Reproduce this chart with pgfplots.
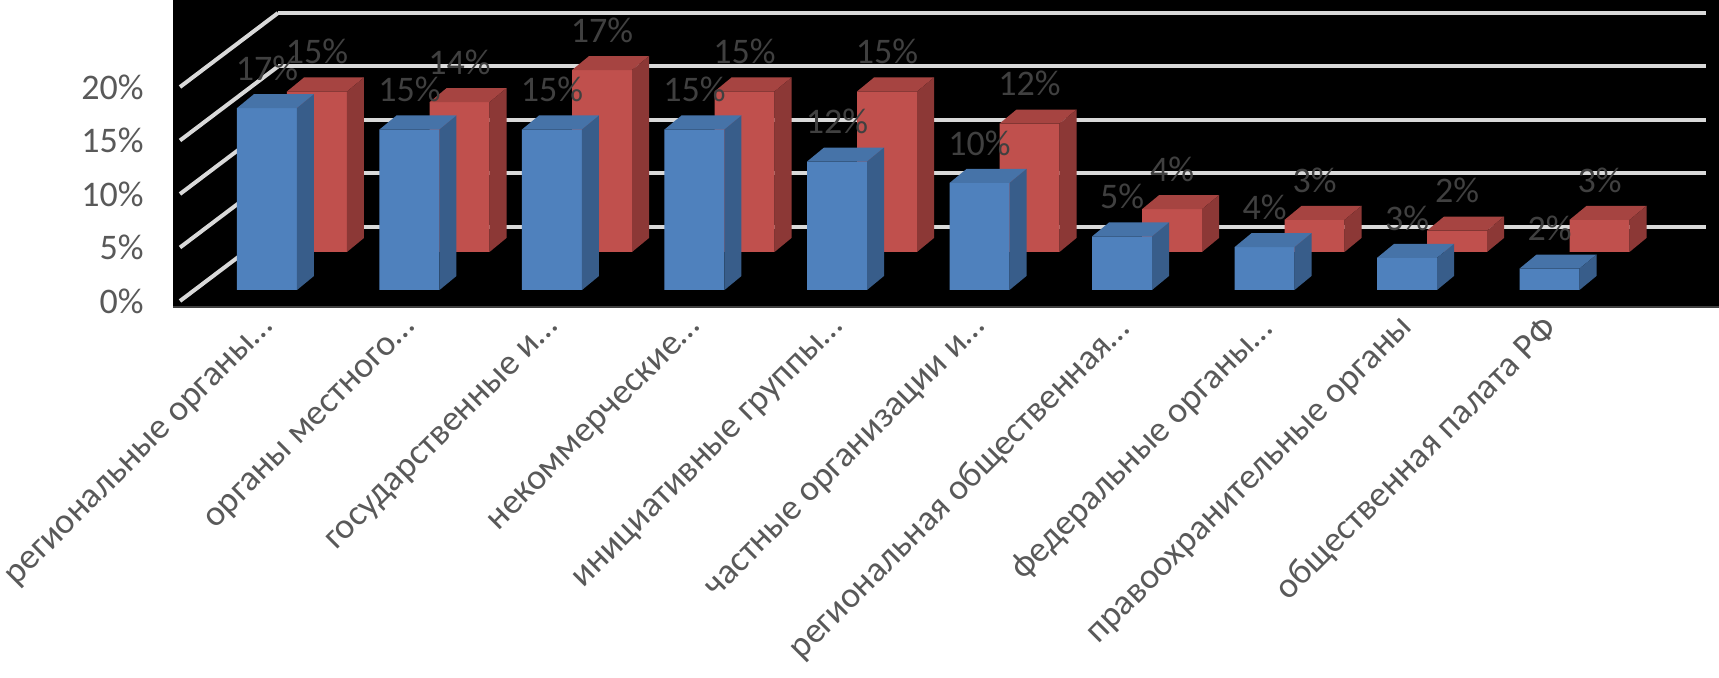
\documentclass[border=0pt]{standalone}
\usepackage{fontspec}
\setmainfont{Carlito}
\usepackage{pgfplots}
\pgfplotsset{compat=1.18}
\definecolor{bfront}{RGB}{79,129,189}
\definecolor{btop}{RGB}{70,115,168}
\definecolor{bside}{RGB}{56,93,138}
\definecolor{rfront}{RGB}{192,80,77}
\definecolor{rtop}{RGB}{166,68,65}
\definecolor{rside}{RGB}{140,56,54}
\definecolor{lbl}{RGB}{89,89,89}
\definecolor{dlbl}{RGB}{64,64,64}
\definecolor{gridc}{RGB}{217,217,217}
\newcommand\cubefaces[2]{%
  \pgfpathmoveto{\pgfqpoint{-15pt}{0pt}}%
  \pgfpathlineto{\pgfqpoint{15pt}{0pt}}%
  \pgfpathlineto{\pgfqpoint{23.5pt}{7pt}}%
  \pgfpathlineto{\pgfqpoint{-6.5pt}{7pt}}%
  \pgfpathclose
  \pgfsetfillcolor{#1}\pgfusepath{fill}%
  \pgfpathmoveto{\pgfqpoint{15pt}{0pt}}%
  \pgfpathlineto{\pgfpoint{15pt}{-\h*5.35pt}}%
  \pgfpathlineto{\pgfpoint{23.5pt}{7pt-\h*5.35pt}}%
  \pgfpathlineto{\pgfqpoint{23.5pt}{7pt}}%
  \pgfpathclose
  \pgfsetfillcolor{#2}\pgfusepath{fill}%
}
\pgfdeclareplotmark{cubeB}{\cubefaces{btop}{bside}}
\pgfdeclareplotmark{cubeR}{\cubefaces{rtop}{rside}}
\pgfplotsset{
  cube3d/.style={
    x=71.25pt, y=5.35pt,
    xmin=-0.6596, xmax=10.189, ymin=-1.589, ymax=27.10,
    anchor=south west, clip=false,
    ybar, bar width=30pt,
    /pgf/number format/assume math mode=true,
    nodes near coords={\pgfmathprintnumber{\pgfplotspointmeta}\%},
    point meta=rawy,
    every node near coord/.append style={anchor=center, yshift=20pt,
      font=\fontsize{18pt}{20pt}\selectfont, text=dlbl, inner sep=0pt},
  }
}
\begin{document}
\begin{tikzpicture}
\fill[white] (0,0) rectangle (859.5pt,339pt);
\fill[black] (86.5pt,185.5pt) rectangle (859.5pt,339pt);
\draw[dlbl, line width=0.75pt] (86.5pt,185.5pt) -- (859.5pt,185.5pt);
\foreach \k in {0,...,4}{
  \draw[gridc, line width=2pt] (139pt,225.5pt+26.75pt*\k) -- (853pt,225.5pt+26.75pt*\k);
  \draw[gridc, line width=2pt] (90pt,188.5pt+26.75pt*\k) -- (139pt,225.5pt+26.75pt*\k);
}
% back series (red)
\begin{axis}[cube3d, at={(111.5pt,204.5pt)}, hide axis]
\addplot[draw=none, fill=rfront, bar shift=0pt, mark=cubeR,
  visualization depends on={rawy \as \h}]
  coordinates {(0,15) (1,14) (2,17) (3,15) (4,15) (5,12) (6,4) (7,3) (8,2) (9,3)};
\end{axis}
% front series (blue)
\begin{axis}[cube3d, at={(86.5pt,185.5pt)},
  axis line style={draw=none}, tick style={draw=none}, major tick length=0pt,
  ytick={0,5,10,15,20},
  yticklabel={\pgfmathprintnumber{\tick}\%},
  yticklabel style={anchor=east, inner sep=0pt, xshift=-14.5pt, yshift=-5.5pt,
    font=\fontsize{18pt}{20pt}\selectfont, text=lbl},
  xtick={0,...,9},
  xticklabels={региональные органы…, органы местного…, государственные и…,
    некоммерческие…, инициативные группы…, частные организации и…,
    региональная общественная…, федеральные органы…,
    правоохранительные органы, общественная палата РФ},
  xticklabel style={yshift=-8.5pt, xshift=1.5pt, rotate=45, anchor=east, inner sep=0pt,
    font=\fontsize{18pt}{20pt}\selectfont, text=lbl},
]
\addplot[draw=none, fill=bfront, bar shift=0pt, mark=cubeB,
  visualization depends on={rawy \as \h}]
  coordinates {(0,17) (1,15) (2,15) (3,15) (4,12) (5,10) (6,5) (7,4) (8,3) (9,2)};
\end{axis}
\pgfresetboundingbox
\path[use as bounding box] (0,0) rectangle (859.5pt,339pt);
\end{tikzpicture}
\end{document}
